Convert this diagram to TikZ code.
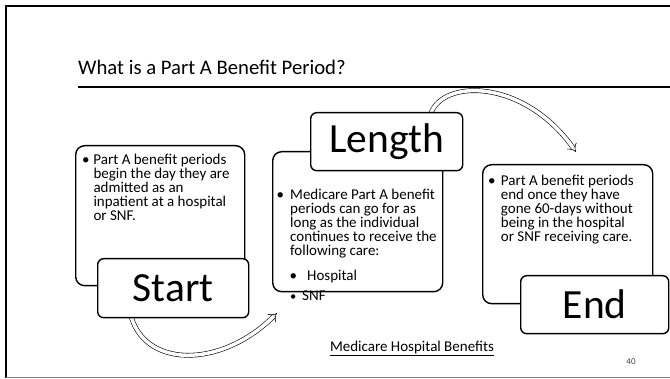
\documentclass[tikz,border=0pt]{standalone}
\usepackage{fontspec}
\setmainfont{Carlito}
\usetikzlibrary{arrows.meta,calc}
\begin{document}
\begin{tikzpicture}[x=1pt,y=-1pt,
  tbox/.style={draw, line width=1.4pt, rounded corners=9pt, fill=white, anchor=north west, inner sep=0pt},
  lbox/.style={draw, line width=1.4pt, rounded corners=6pt, fill=white, anchor=north west, inner sep=0pt, font=\fontsize{41.5}{45}\selectfont},
  body/.style={anchor=base west, inner sep=0pt, font=\fontsize{15}{14}\selectfont},
  harrow/.style={double, double distance=3.5pt, line width=0.6pt, -{Implies}},
]
\useasboundingbox (0,0) rectangle (670,379);
% slide frame
\draw[line width=1.6pt] (6,378) -- (6,6) -- (671,6);
\draw[gray, line width=1pt] (6,378) -- (671,378);
% title
\node[anchor=base west, inner sep=0pt, font=\fontsize{20.7}{24}\selectfont] (title) at (78,75) {What is a Part A Benefit Period?};
\draw[line width=2pt] (78,87) -- (671,87);
% arrows (behind boxes)
\coordinate (a1s) at (130,312);
\coordinate (a1e) at (277,313);
\coordinate (a2s) at (430,116);
\coordinate (a2e) at (576,152);
\draw[harrow] (a1s) .. controls (142,369) and (221,369) .. (a1e);
\draw[harrow] (a2s) .. controls (440,78) and (524,78) .. (a2e);
% Start
\node[tbox, minimum width=169pt, minimum height=140pt] (starttext) at (75,145) {};
\node[body] (startbody) at (82,165) {\parbox[t]{160pt}{\fontsize{15}{14}\selectfont\noindent\hangindent=11.3pt\hangafter=1\makebox[11.3pt][l]{\textbullet}Part A benefit periods\\ begin the day they are\\ admitted as an\\ inpatient at a hospital\\ or SNF.}};
\node[lbox, minimum width=151pt, minimum height=59pt] (start) at (97,258) {Start};
% Length
\node[tbox, minimum width=170pt, minimum height=140pt] (lentext) at (272,151) {};
\node[lbox, minimum width=152pt, minimum height=58pt] (length) at (310,112) {Length};
\node[body] (lenbody) at (276.3,200) {\parbox[t]{165pt}{\fontsize{15}{14}\selectfont\noindent\hangindent=13.7pt\hangafter=1\makebox[13.7pt][l]{\textbullet}Medicare Part A benefit\\ periods can go for as\\ long as the individual\\ continues to receive the\\ following care:}};
\node[body] (hosp) at (289.3,281) {\makebox[17.7pt][l]{\textbullet}Hospital};
\node[body] (snf) at (289.8,301) {\makebox[12.2pt][l]{\fontsize{12.5}{13}\selectfont\textbullet}SNF};
% End
\node[tbox, minimum width=170pt, minimum height=139pt] (endtext) at (482,164) {};
\node[body] (endbody) at (488,186) {\parbox[t]{160pt}{\fontsize{15}{14}\selectfont\noindent\hangindent=12.7pt\hangafter=1\makebox[12.7pt][l]{\textbullet}Part A benefit periods\\ end once they have\\ gone 60-days without\\ being in the hospital\\ or SNF receiving care.}};
\node[lbox, minimum width=148pt, minimum height=58pt] (end) at (520,275) {End};
% footer
\node[anchor=base, inner sep=0pt, font=\fontsize{15}{16}\selectfont] (footer) at (412,352) {Medicare Hospital Benefits};
\draw[line width=0.8pt] ($(footer.base west)+(0,3)$) -- ($(footer.base east)+(0,3)$);
\node[anchor=base, inner sep=0pt, font=\fontsize{9}{10}\selectfont, text=black!75] (pagenum) at (631,365) {40};
\end{tikzpicture}
\end{document}
